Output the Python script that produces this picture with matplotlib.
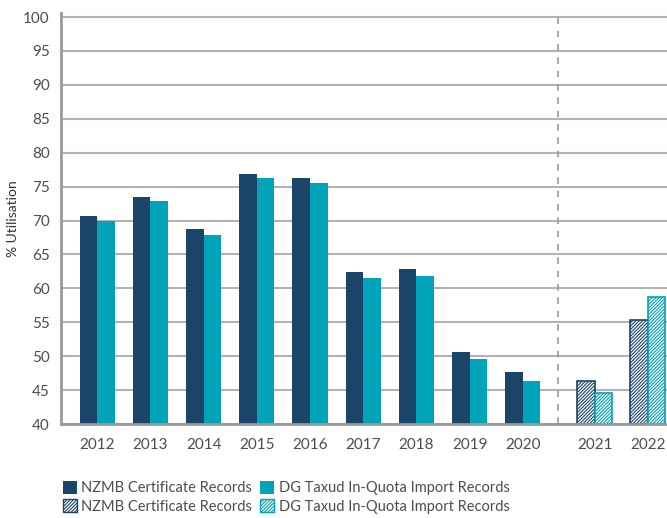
import numpy as np
import matplotlib.pyplot as plt
from matplotlib.patches import Patch

plt.rcParams['font.family'] = ['Lato', 'DejaVu Sans']
plt.rcParams['hatch.linewidth'] = 0.8

years = ['2012', '2013', '2014', '2015', '2016', '2017', '2018', '2019', '2020', '2021', '2022']
nzmb = [70.6, 73.4, 68.8, 76.9, 76.2, 62.4, 62.8, 50.6, 47.6, 46.3, 55.3]
dg = [70.0, 72.9, 67.8, 76.3, 75.6, 61.5, 61.8, 49.6, 46.4, 44.5, 58.7]
n_actual = 9  # 2012-2020 recorded, 2021-2022 hatched

navy = '#1b4469'
teal = '#00a3b8'
grid_c = '#b3b3b3'
text_c = '#4d4d4d'
hatch = '/' * 10

x = np.arange(len(years), dtype=float)
x[n_actual:] += 0.35
w = 0.33

fig = plt.figure(figsize=(6.67, 5.18), dpi=100)
ax = fig.add_axes([61 / 667, 1 - 424 / 518, 1 - 61 / 667, (424 - 13) / 518])

for i in range(len(years)):
    if i < n_actual:
        ax.bar(x[i] - w / 2, nzmb[i] - 40, w, bottom=40, color=navy, zorder=3)
        ax.bar(x[i] + w / 2, dg[i] - 40, w, bottom=40, color=teal, zorder=3)
    else:
        ax.bar(x[i] - w / 2, nzmb[i] - 40, w, bottom=40, facecolor='white',
               edgecolor=navy, hatch=hatch, linewidth=1.2, zorder=3)
        ax.bar(x[i] + w / 2, dg[i] - 40, w, bottom=40, facecolor='white',
               edgecolor=teal, hatch=hatch, linewidth=1.2, zorder=3)

ax.set_ylim(40, 100.6)
ax.set_xlim(-0.68, 10.71)
ax.set_yticks(range(40, 101, 5))
ax.set_xticks(x)
ax.set_xticklabels(years)
ax.yaxis.grid(True, color=grid_c, linewidth=1.5, zorder=0)
ax.tick_params(length=0, labelsize=11, labelcolor=text_c)
ax.tick_params(axis='x', pad=10)
ax.tick_params(axis='y', pad=8)

for s in ['top', 'right']:
    ax.spines[s].set_visible(False)
for s in ['left', 'bottom']:
    ax.spines[s].set_color('#999999')
    ax.spines[s].set_linewidth(2)
    ax.spines[s].set_zorder(4)

ax.axvline((x[n_actual - 1] + x[n_actual]) / 2 - 0.02, color='#999999',
           linestyle=(0, (4, 4)), linewidth=1.2, zorder=2)

ax.set_ylabel('% Utilisation', fontsize=10, color='#333333', labelpad=3)

handles = [
    Patch(facecolor=navy, label='NZMB Certificate Records'),
    Patch(facecolor='white', edgecolor=navy, hatch=hatch, label='NZMB Certificate Records'),
    Patch(facecolor=teal, label='DG Taxud In-Quota Import Records'),
    Patch(facecolor='white', edgecolor=teal, hatch=hatch, label='DG Taxud In-Quota Import Records'),
]
fig.legend(handles=handles, ncol=2, loc='upper left', bbox_to_anchor=(0.085, 0.083),
           frameon=False, fontsize=10.5, handlelength=1.0, handleheight=1.0,
           handletextpad=0.3, columnspacing=0.5, labelspacing=0.25,
           labelcolor=text_c, borderaxespad=0)

fig.savefig('out.png', dpi=100)
